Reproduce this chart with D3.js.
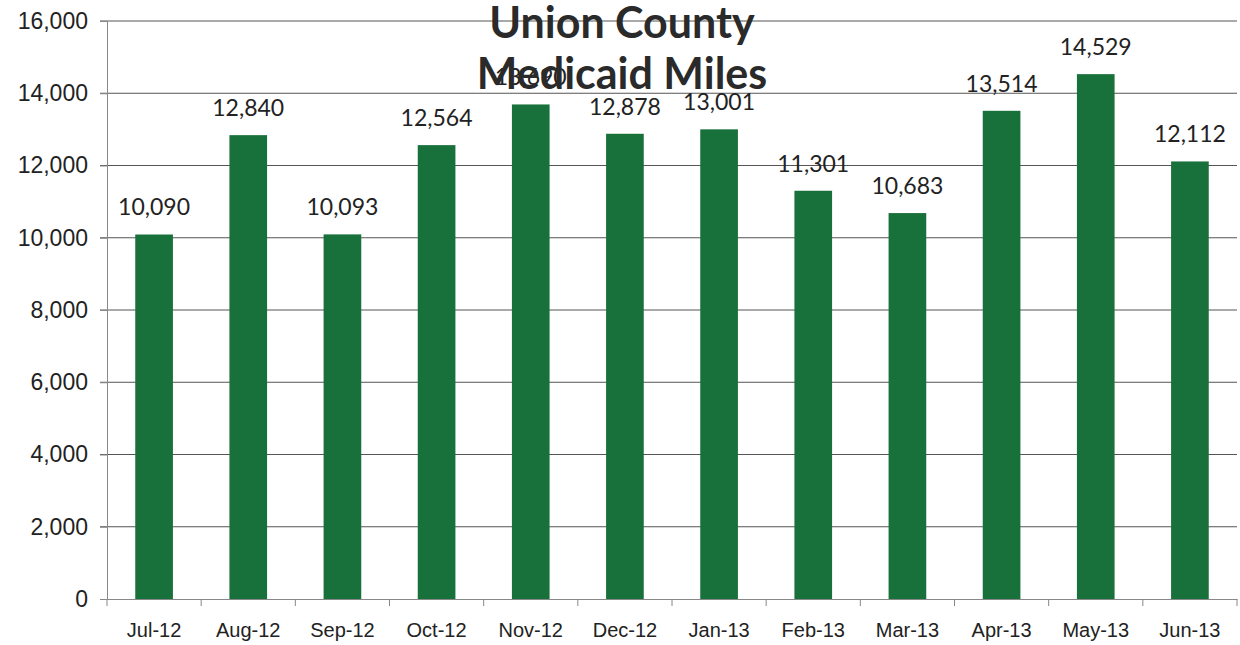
<!DOCTYPE html>
<html lang="en">
<head>
  <meta charset="UTF-8" />
  <title>Union County Medicaid Miles</title>
  <script src="https://unpkg.com/d3@7/dist/d3.min.js"></script>
  <style>
    body {
      margin: 0;
      background: #ffffff;
      font-family: Lato, "Open Sans", Arial, sans-serif;
    }
    svg { display: block; }
    .axis text { fill: #222; }
    .axis path, .axis line { stroke: #888; }
    .grid line { stroke: #555; stroke-width: 1; }
  </style>
</head>
<body>
  <svg id="chart" width="1240" height="645"></svg>

  <script>
  const months = ["Jul-12", "Aug-12", "Sep-12", "Oct-12", "Nov-12", "Dec-12",
                  "Jan-13", "Feb-13", "Mar-13", "Apr-13", "May-13", "Jun-13"];
  const miles  = [10090, 12840, 10093, 12564, 13690, 12878,
                  13001, 11301, 10683, 13514, 14529, 12112];
  const yTicks = [0, 2000, 4000, 6000, 8000, 10000, 12000, 14000, 16000];
  const titleLines = ["Union County", "Medicaid Miles"];

  const data = months.map((m, i) => ({ month: m, value: miles[i] }));

  const svg = d3.select("#chart");
  const margin = { top: 21, right: 3, bottom: 46, left: 107 };
  const width  = 1240 - margin.left - margin.right;
  const height = 645 - margin.top - margin.bottom;

  const chart = svg.append("g")
    .attr("transform", `translate(${margin.left},${margin.top})`);

  const x = d3.scaleBand()
    .domain(months)
    .range([0, width])
    .paddingInner(0.6)
    .paddingOuter(0.3);

  const y = d3.scaleLinear()
    .domain([0, 16000])
    .range([height, 0]);

  // gridlines
  chart.append("g")
    .attr("class", "grid")
    .selectAll("line")
    .data(yTicks.filter(d => d > 0))
    .join("line")
      .attr("x1", -7)
      .attr("x2", width)
      .attr("y1", d => y(d))
      .attr("y2", d => y(d));

  // y axis
  const yAxis = chart.append("g")
    .attr("class", "axis")
    .call(d3.axisLeft(y).tickValues(yTicks).tickSize(7).tickPadding(12).tickFormat(d3.format(",")));
  yAxis.select(".domain").attr("stroke", "#aaa");
  yAxis.selectAll("text").style("font-size", "23px");

  // x axis with ticks between categories
  const xAxis = chart.append("g")
    .attr("class", "axis")
    .attr("transform", `translate(0,${height})`)
    .call(d3.axisBottom(x).tickSize(0).tickPadding(24));
  xAxis.select(".domain").attr("stroke", "#888");
  xAxis.selectAll("text").style("font-size", "20px");

  const bounds = d3.range(months.length + 1).map(i => i * width / months.length);
  xAxis.selectAll(".sep")
    .data(bounds)
    .join("line")
      .attr("class", "sep")
      .attr("x1", d => d)
      .attr("x2", d => d)
      .attr("y1", 0)
      .attr("y2", 7)
      .attr("stroke", "#888");

  // bars
  chart.selectAll(".bar")
    .data(data)
    .join("rect")
      .attr("class", "bar")
      .attr("x", d => x(d.month))
      .attr("y", d => y(d.value))
      .attr("width", x.bandwidth())
      .attr("height", d => y(0) - y(d.value))
      .attr("fill", "#18703a");

  // value labels
  chart.selectAll(".label")
    .data(data)
    .join("text")
      .attr("class", "label")
      .attr("x", d => x(d.month) + x.bandwidth() / 2)
      .attr("y", d => y(d.value) - 19)
      .attr("text-anchor", "middle")
      .style("font-size", "23px")
      .style("fill", "#222")
      .text(d => d3.format(",")(d.value));

  // title drawn over the plot
  svg.append("g")
    .selectAll("text")
    .data(titleLines)
    .join("text")
      .attr("x", 622)
      .attr("y", (d, i) => 38 + i * 51)
      .attr("text-anchor", "middle")
      .style("font-size", "43px")
      .style("font-weight", "bold")
      .style("fill", "#2a2a2a")
      .text(d => d);
  </script>
</body>
</html>
